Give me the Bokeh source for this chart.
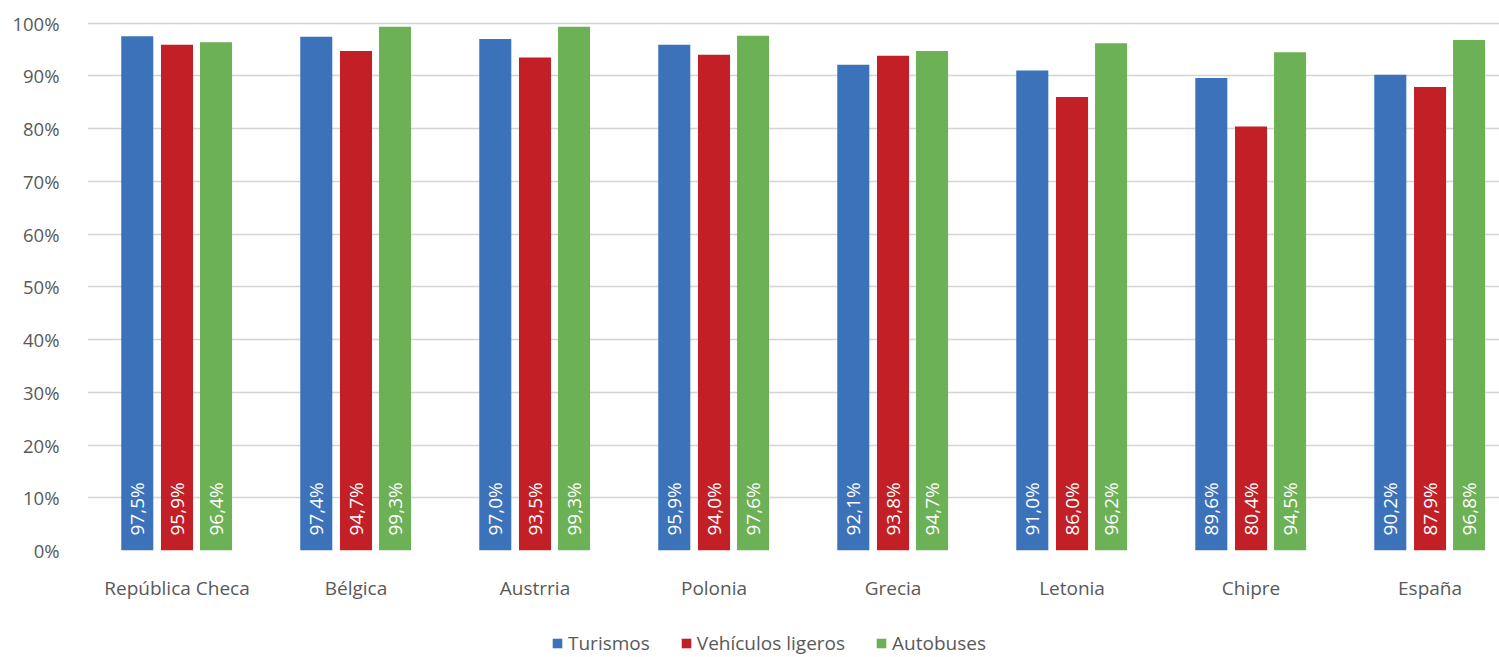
from bokeh.plotting import figure
from bokeh.layouts import column
from bokeh.models import ColumnDataSource, Range1d, FixedTicker, Legend, LegendItem
from bokeh.core.properties import value
from bokeh.embed import file_html
from bokeh.resources import INLINE
import math

categories = ["República Checa", "Bélgica", "Austrria", "Polonia", "Grecia",
              "Letonia", "Chipre", "España"]
series_names = ["Turismos", "Vehículos ligeros", "Autobuses"]
turismos = [97.5, 97.4, 97.0, 95.9, 92.1, 91.0, 89.6, 90.2]
vehiculos_ligeros = [95.9, 94.7, 93.5, 94.0, 93.8, 86.0, 80.4, 87.9]
autobuses = [96.4, 99.3, 99.3, 97.6, 94.7, 96.2, 94.5, 96.8]
y_ticks = [0, 10, 20, 30, 40, 50, 60, 70, 80, 90, 100]

colors = ["#3C72BA", "#C21F26", "#6DB157"]
offsets = [-0.222, 0.0, 0.218]
bar_w = 0.179
FONT = "Open Sans"
GREY = "#595959"

# main bar chart
p = figure(width=1499, height=625, output_backend="svg", toolbar_location=None,
           x_range=Range1d(0, 7.888), y_range=Range1d(0, 102.4),
           min_border_left=87, min_border_right=0, min_border_top=10,
           min_border_bottom=75)
p.outline_line_color = None
p.background_fill_color = "white"
p.border_fill_color = "white"

for name, vals, col, off in zip(series_names, [turismos, vehiculos_ligeros, autobuses],
                                colors, offsets):
    xs = [i + 0.5 + off for i in range(len(categories))]
    labels = [f"{v:.1f}%".replace(".", ",") for v in vals]
    src = ColumnDataSource(dict(x=xs, top=vals, label=labels))
    p.vbar(x="x", top="top", width=bar_w, bottom=0, source=src,
           fill_color=col, line_color=None)
    p.text(x="x", y=0, text="label", source=src, angle=math.pi / 2,
           text_align="left", text_baseline="middle", y_offset=-15,
           text_color="white", text_font=value(FONT), text_font_size="19px")

p.xaxis.ticker = FixedTicker(ticks=[i + 0.5 for i in range(len(categories))])
p.xaxis.major_label_overrides = {i + 0.5: c for i, c in enumerate(categories)}
p.yaxis.ticker = FixedTicker(ticks=y_ticks)
p.yaxis.major_label_overrides = {t: f"{t}%" for t in y_ticks}
for ax in (p.xaxis, p.yaxis):
    ax.axis_line_color = None
    ax.major_tick_line_color = None
    ax.minor_tick_line_color = None
    ax.major_label_text_font = FONT
    ax.major_label_text_color = GREY
p.xaxis.major_label_text_font_size = "19px"
p.yaxis.major_label_text_font_size = "18.5px"
p.xaxis.major_label_standoff = 18
p.yaxis.major_label_standoff = 22

p.xgrid.grid_line_color = None
p.ygrid.grid_line_color = "#D4D4D4"
p.ygrid.grid_line_width = 1.6

# legend strip underneath the chart (key swatches sit outside its visible range)
lg = figure(width=1499, height=32, output_backend="svg", toolbar_location=None,
            x_range=Range1d(0, 1), y_range=Range1d(0, 1),
            min_border_left=0, min_border_right=0, min_border_top=0,
            min_border_bottom=0)
lg.axis.visible = False
lg.grid.visible = False
lg.outline_line_color = None
lg.border_fill_color = "white"

items = []
for name, col in zip(series_names, colors):
    r = lg.vbar(x=[-5], top=[-5], bottom=[-6], width=0.1,
                fill_color=col, line_color=None)
    items.append(LegendItem(label=name, renderers=[r]))

legend = Legend(items=items, orientation="horizontal", location=(464, 1),
                glyph_width=12, glyph_height=12, label_standoff=5, spacing=30,
                padding=0, margin=0, border_line_color=None,
                background_fill_alpha=0,
                label_text_font=FONT, label_text_font_size="19px",
                label_text_color=GREY)
lg.add_layout(legend, "center")

open("out.html", "w").write(file_html(column(p, lg, spacing=0), INLINE))
